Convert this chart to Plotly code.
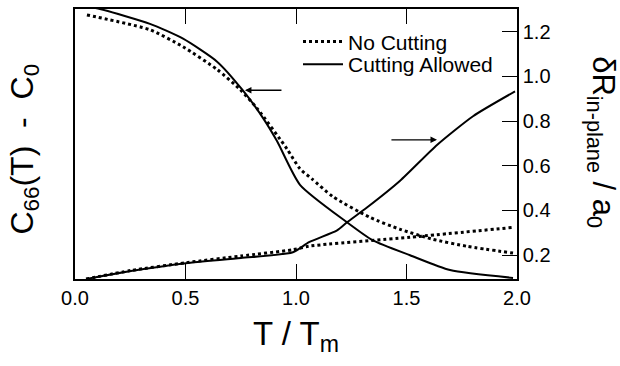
import plotly.graph_objects as go

# ---- data ----
# C66(T) - C0 (left axis, arbitrary units: 0 = bottom of frame, 1 = top)
t_c66_cut = [0.0, 0.113, 0.339, 0.489, 0.643, 0.756, 0.851, 0.914, 1.018, 1.226, 1.348, 1.516, 1.697, 1.982]
c66_cut = [1.018, 1.0, 0.945, 0.890, 0.805, 0.702, 0.596, 0.511, 0.349, 0.213, 0.143, 0.088, 0.033, 0.004]

t_c66_nocut = [0.054, 0.339, 0.489, 0.643, 0.747, 0.824, 0.959, 1.018, 1.072, 1.167, 1.335, 1.471, 1.62, 1.774, 1.982]
c66_nocut = [0.978, 0.923, 0.860, 0.776, 0.702, 0.632, 0.482, 0.408, 0.371, 0.305, 0.228, 0.184, 0.147, 0.121, 0.096]

# delta R in-plane / a0 (right axis)
t_dr_cut = [0.05, 0.253, 0.502, 0.751, 0.986, 1.059, 1.186, 1.231, 1.321, 1.471, 1.638, 1.801, 1.991]
dr_cut = [0.093, 0.129, 0.164, 0.187, 0.213, 0.258, 0.311, 0.347, 0.413, 0.533, 0.693, 0.822, 0.933]

t_dr_nocut = [0.05, 0.253, 0.502, 0.751, 0.986, 1.059, 1.516, 1.982]
dr_nocut = [0.093, 0.131, 0.166, 0.196, 0.224, 0.240, 0.280, 0.324]

x_ticks = [0.0, 0.5, 1.0, 1.5, 2.0]
x_ticktext = ["0.0", "0.5", "1.0", "1.5", "2.0"]
r_ticks = [0.2, 0.4, 0.6, 0.8, 1.0, 1.2]
r_ticktext = ["0.2", "0.4", "0.6", "0.8", "1.0", "1.2"]

FONT = "Liberation Sans, Arial, sans-serif"
solid = dict(color="black", width=2, shape="spline", smoothing=0.6)
dotted = dict(color="black", width=3, dash="dot", shape="spline", smoothing=0.6)

fig = go.Figure()
fig.add_trace(go.Scatter(x=t_c66_nocut, y=c66_nocut, mode="lines", line=dotted,
                         name="No Cutting", yaxis="y", legend="legend"))
fig.add_trace(go.Scatter(x=t_c66_cut, y=c66_cut, mode="lines", line=solid,
                         name="Cutting Allowed", yaxis="y", legend="legend2"))
fig.add_trace(go.Scatter(x=t_dr_nocut, y=dr_nocut, mode="lines", line=dotted,
                         name="No Cutting", yaxis="y2", showlegend=False))
fig.add_trace(go.Scatter(x=t_dr_cut, y=dr_cut, mode="lines", line=solid,
                         name="Cutting Allowed", yaxis="y2", showlegend=False))

# arrows
fig.add_annotation(x=0.769, y=0.699, ax=0.941, ay=0.699, xref="x", yref="y",
                   axref="x", ayref="y", showarrow=True, arrowhead=2, arrowsize=1,
                   arrowwidth=1.3, arrowcolor="black", text="")
fig.add_annotation(x=1.638, y=0.716, ax=1.425, ay=0.716, xref="x", yref="y2",
                   axref="x", ayref="y2", showarrow=True, arrowhead=2, arrowsize=1,
                   arrowwidth=1.3, arrowcolor="black", text="")

# axis titles
fig.add_annotation(text="C<sub>66</sub>(T)  -  C<sub>0</sub>", xref="paper", yref="paper",
                   x=-0.115, y=0.48, xanchor="center", yanchor="middle", showarrow=False,
                   textangle=-90, font=dict(size=32, color="black", family=FONT))
fig.add_annotation(text="δR<sub>in-plane</sub> / a<sub>0</sub>", xref="paper", yref="paper",
                   x=1.19, y=0.507, xanchor="center", yanchor="middle", showarrow=False,
                   textangle=90, font=dict(size=31, color="black", family=FONT))
fig.add_annotation(text="T / T<sub>m</sub>", xref="paper", yref="paper",
                   x=0.5, y=-0.21, xanchor="center", yanchor="middle", showarrow=False,
                   font=dict(size=33, color="black", family=FONT))

fig.update_layout(
    width=620, height=366,
    margin=dict(l=75, r=103, t=7, b=87),
    paper_bgcolor="white", plot_bgcolor="white",
    font=dict(family=FONT, size=20, color="black"),
    xaxis=dict(range=[0, 2], tickvals=x_ticks, ticktext=x_ticktext,
               ticks="inside", ticklen=15, tickwidth=1.3, tickcolor="black",
               showline=True, linecolor="black", linewidth=1.5, mirror="ticks",
               showgrid=False, zeroline=False),
    yaxis=dict(range=[0, 1], showticklabels=False, ticks="", showgrid=False,
               zeroline=False, showline=True, linecolor="black", linewidth=1.5),
    yaxis2=dict(range=[0.093, 1.302], overlaying="y", side="right",
                tickvals=r_ticks, ticktext=r_ticktext, ticks="inside", ticklen=15,
                tickwidth=1.3, tickcolor="black", showline=True, linecolor="black",
                linewidth=1.5, showgrid=False, zeroline=False),
    legend=dict(x=(298 - 75) / 442, y=(279 - 40) / 272, xanchor="left", yanchor="middle",
                bgcolor="rgba(0,0,0,0)", font=dict(size=21), itemwidth=40),
    legend2=dict(x=(298 - 75) / 442, y=(279 - 63) / 272, xanchor="left", yanchor="middle",
                 bgcolor="rgba(0,0,0,0)", font=dict(size=21), itemwidth=40),
    showlegend=True,
)

# remove the browser's default 8px body margin so the figure fills the window
fig.write_html("out.html", config={"displayModeBar": False},
               post_script="document.body.style.margin='0px';")
